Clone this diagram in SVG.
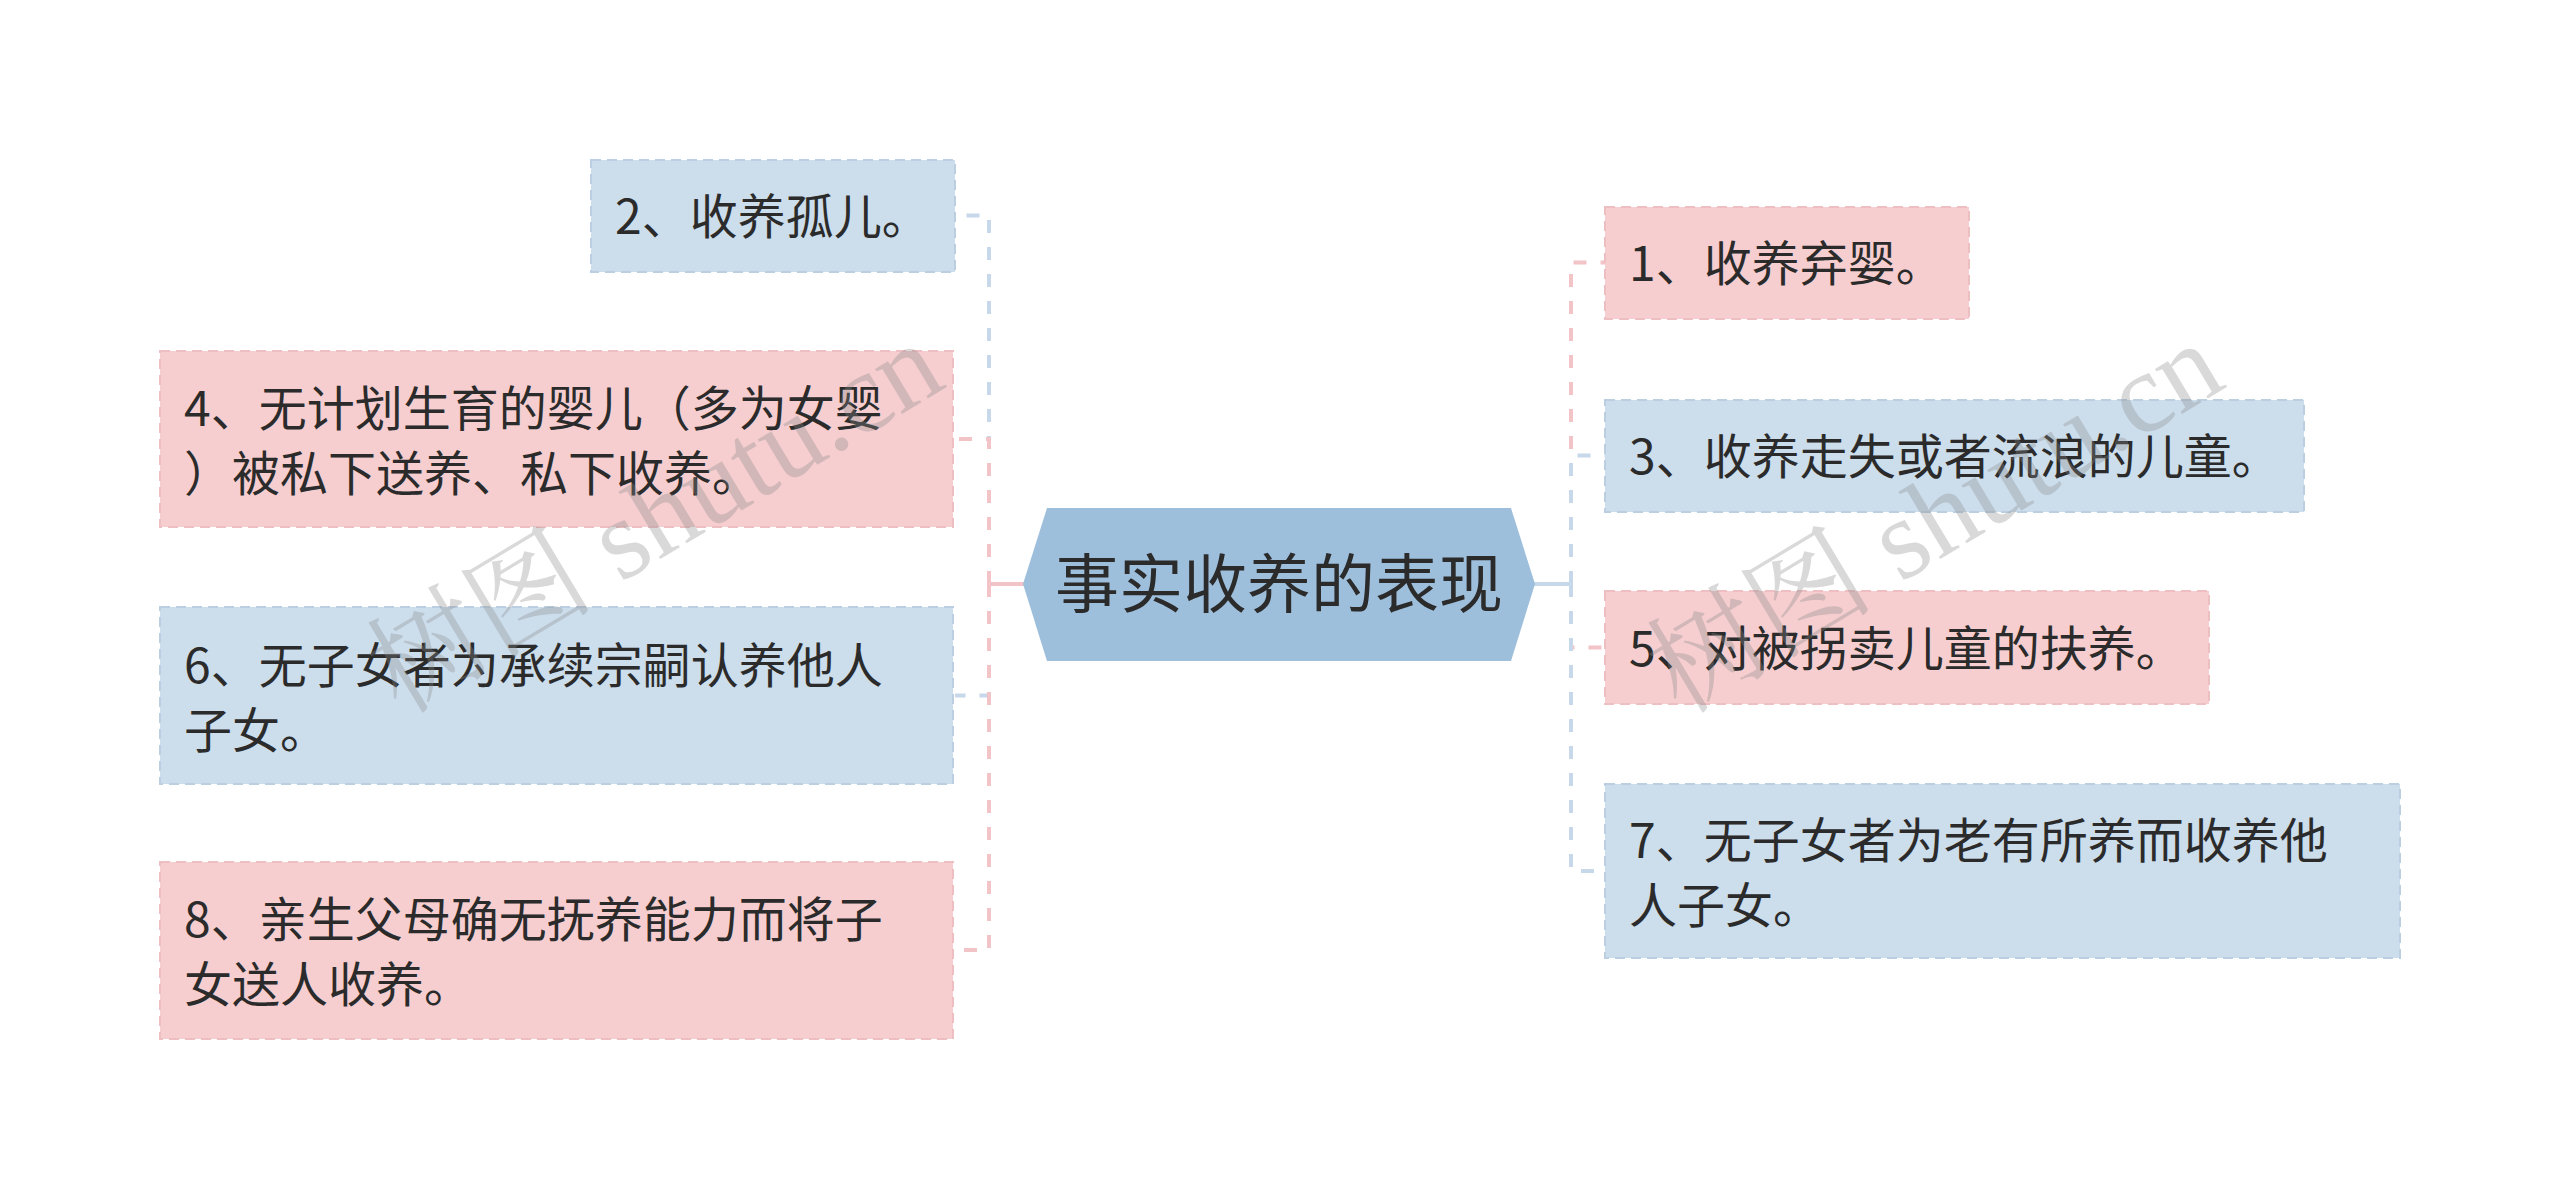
<svg xmlns="http://www.w3.org/2000/svg" width="2560" height="1200" viewBox="0 0 2560 1200">
<style>
.t{font-family:"Noto Sans CJK SC","Noto Sans",sans-serif;font-size:48px;fill:#2b2b2b}
.ct{font-family:"Noto Sans CJK SC","Noto Sans",sans-serif;font-size:64px;fill:#2b2b2b}
.pk{fill:#f6ced0;stroke:#eebfc2;stroke-width:2;stroke-dasharray:10 6}
.bl{fill:#ccddec;stroke:#bccfe2;stroke-width:2;stroke-dasharray:10 6}
.cp{fill:none;stroke:#f3c4c7;stroke-width:4;stroke-dasharray:13 14}
.cb{fill:none;stroke:#c6d8ea;stroke-width:4;stroke-dasharray:13 14}
.wm{font-family:"Liberation Serif","Noto Serif CJK SC","Noto Sans CJK SC",serif;font-size:114px;fill:#8a8a8a;opacity:0.32}
</style>
<rect width="2560" height="1200" fill="#ffffff"/>
<g id="connectors">
  <path class="cb" d="M989 584 V215.5 H955"/>
  <path class="cp" d="M989 584 V439 H955"/>
  <path class="cb" d="M989 584 V695.5 H955"/>
  <path class="cp" d="M989 584 V950 H955"/>
  <path d="M1024 584 H989" stroke="#f3c4c7" stroke-width="4" fill="none"/>
  <path class="cp" d="M1571 584 V262.5 H1605"/>
  <path class="cb" d="M1571 584 V455.5 H1605"/>
  <path class="cp" d="M1571 584 V647.5 H1605"/>
  <path class="cb" d="M1571 584 V871 H1605"/>
  <path d="M1534 584 H1571" stroke="#c6d8ea" stroke-width="4" fill="none"/>
</g>
<g id="center">
  <polygon points="1023,584 1047,508 1511,508 1535,584 1511,661 1047,661" fill="#9ebfdc"/>
  <text class="ct" x="1279" y="607" text-anchor="middle">事实收养的表现</text>
</g>
<g id="n2">
  <rect class="bl" x="591" y="160" width="364" height="112"/>
  <text class="t" x="615" y="234">2、收养孤儿。</text>
</g>
<g id="n4">
  <rect class="pk" x="160" y="351" width="793" height="176"/>
  <text class="t" x="184" y="426">4、无计划生育的婴儿（多为女婴</text>
  <text class="t" x="184" y="491">）被私下送养、私下收养。</text>
</g>
<g id="n6">
  <rect class="bl" x="160" y="607" width="793" height="177"/>
  <text class="t" x="184" y="683">6、无子女者为承续宗嗣认养他人</text>
  <text class="t" x="184" y="748">子女。</text>
</g>
<g id="n8">
  <rect class="pk" x="160" y="862" width="793" height="177"/>
  <text class="t" x="184" y="937">8、亲生父母确无抚养能力而将子</text>
  <text class="t" x="184" y="1002">女送人收养。</text>
</g>
<g id="n1">
  <rect class="pk" x="1605" y="207" width="364" height="112"/>
  <text class="t" x="1629" y="281">1、收养弃婴。</text>
</g>
<g id="n3">
  <rect class="bl" x="1605" y="400" width="699" height="112"/>
  <text class="t" x="1629" y="474">3、收养走失或者流浪的儿童。</text>
</g>
<g id="n5">
  <rect class="pk" x="1605" y="591" width="604" height="113"/>
  <text class="t" x="1629" y="666">5、对被拐卖儿童的扶养。</text>
</g>
<g id="n7">
  <rect class="bl" x="1605" y="784" width="795" height="174"/>
  <text class="t" x="1629" y="858">7、无子女者为老有所养而收养他</text>
  <text class="t" x="1629" y="923">人子女。</text>
</g>
<g id="watermark">
  <text class="wm" x="655" y="556" text-anchor="middle" transform="rotate(-31 655 518)">树图 shutu.cn</text>
  <text class="wm" x="1935" y="556" text-anchor="middle" transform="rotate(-31 1935 518)">树图 shutu.cn</text>
</g>
</svg>
